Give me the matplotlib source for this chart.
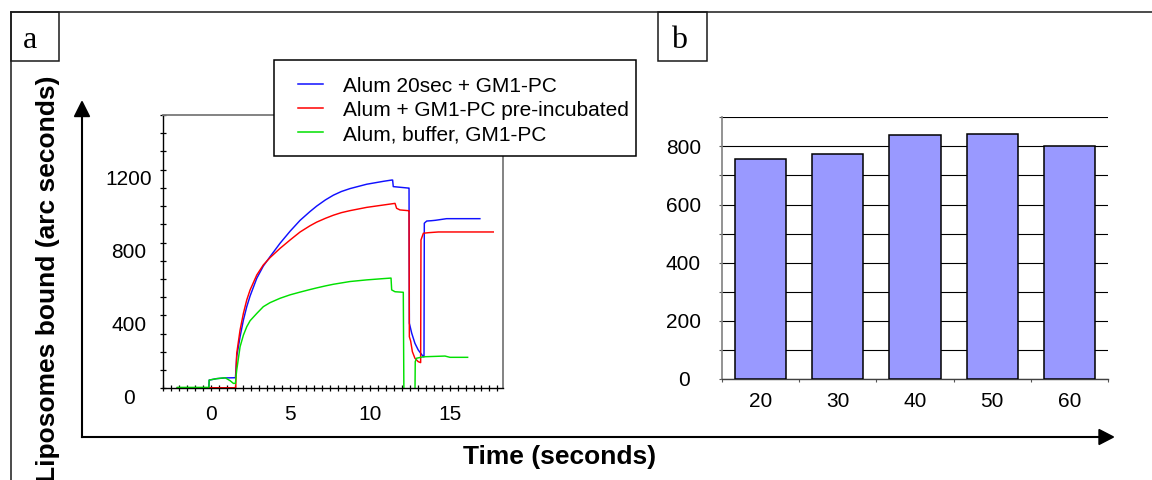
import matplotlib
matplotlib.use('Agg')
import matplotlib.pyplot as plt
from matplotlib.patches import Rectangle, Polygon
from matplotlib.lines import Line2D
from matplotlib.ticker import MultipleLocator
from matplotlib.transforms import ScaledTranslation

# ---------------- data ----------------
series_labels = ["Alum 20sec + GM1-PC",
                 "Alum + GM1-PC pre-incubated",
                 "Alum, buffer, GM1-PC"]
series_colors = ["#1010ff", "#ff0000", "#00e000"]

blue_t = [-2.1, -0.12, -0.1, 0.37, 0.9, 1.55, 1.58, 1.63, 1.84, 2.05, 2.26, 2.47,
          2.89, 3.3, 3.72, 4.35, 4.98, 5.61, 6.23, 6.65, 7.2, 7.7, 8.2, 8.74,
          9.79, 10.84, 11.36, 11.42, 11.46, 12.4, 12.45, 12.47, 12.62, 12.82,
          13.03, 13.35, 13.39, 13.41, 13.56, 13.87, 14.1, 14.81, 16.9]
blue_v = [3, 3, 45, 53, 57, 58, 100, 174, 283, 375, 448, 507,
          604, 671, 722, 796, 862, 922, 970, 1000, 1034, 1060, 1080, 1096,
          1120, 1136, 1143, 1143, 1107, 1099, 1099, 357, 302, 247,
          210, 173, 173, 906, 918, 920, 922, 931, 931]

red_t = [-2.1, 1.57, 1.59, 1.63, 1.84, 2.05, 2.26, 2.47, 2.89, 3.3, 3.72, 4.35,
         4.98, 5.61, 6.23, 6.65, 7.2, 7.7, 8.2, 8.74, 9.79, 10.84, 11.57, 11.67,
         11.88, 12.4, 12.45, 12.47, 12.55, 12.66, 12.82, 13.03, 13.18, 13.2,
         13.35, 13.66, 14.29, 17.74]
red_v = [3, 3, 100, 192, 320, 412, 485, 540, 622, 677, 717, 768,
         814, 858, 892, 912, 933, 950, 964, 975, 993, 1006, 1015, 988,
         979, 975, 975, 283, 260, 201, 165, 146, 141, 814,
         851, 854, 858, 858]

green_t = [-2.1, -0.12, -0.1, 0.37, 0.9, 1.21, 1.42, 1.55, 1.58, 1.63, 1.84, 2.05,
           2.26, 2.47, 2.89, 3.3, 3.72, 4.35, 4.98, 5.61, 6.23, 6.65, 7.2, 7.7,
           8.74, 9.79, 10.84, 11.32, 11.36, 11.57, 12.09, 12.13, 12.82, 12.84,
           12.92, 13.35, 14.71, 15.02, 16.13]
green_v = [5, 5, 45, 53, 58, 42, 27, 27, 60, 100, 228, 292,
           338, 371, 411, 448, 470, 494, 513, 528, 542, 551, 562, 571,
           586, 595, 602, 605, 540, 530, 527, -60, -60, 146,
           165, 173, 177, 170, 170]

bar_categories = ["20", "30", "40", "50", "60"]
bar_values = [755, 773, 838, 843, 803]

left_xticks = [0, 5, 10, 15]
left_yticks = [0, 400, 800, 1200]
right_yticks = [0, 200, 400, 600, 800]

# ---------------- figure ----------------
W, H = 1152, 480
plt.rcParams['font.family'] = ['Liberation Sans', 'DejaVu Sans']
fig = plt.figure(figsize=(W / 100, H / 100), dpi=100)


def fx(x):
    return x / W


def fy(y):
    return 1 - y / H


# ---------- panel a ----------
ax1 = fig.add_axes([fx(163), fy(388.3), (503.3 - 163) / W, (388.3 - 115) / H])
for t, v, c, lab in zip([blue_t, red_t, green_t], [blue_v, red_v, green_v],
                        series_colors, series_labels):
    ax1.plot(t, v, color=c, lw=1.05, label=lab)
ax1.set_xlim(-3.0, 18.37)
ax1.set_ylim(0, 1500)
ax1.set_xticks(left_xticks)
ax1.xaxis.set_minor_locator(MultipleLocator(0.5))
ax1.set_yticks(left_yticks)
ax1.yaxis.set_minor_locator(MultipleLocator(100))
ax1.tick_params(which='both', direction='inout', length=4.3, width=0.9,
                labelsize=15, color='black')
ax1.tick_params(axis='x', pad=9.85)
ax1.tick_params(axis='y', pad=22.3)
for lab in ax1.get_yticklabels():
    lab.set_horizontalalignment('center')
    lab.set_transform(lab.get_transform() +
                      ScaledTranslation(0, -8 / 100, fig.dpi_scale_trans))
for s in ['top', 'right']:
    ax1.spines[s].set_color('#7a7a7a')
    ax1.spines[s].set_linewidth(1.3)
for s in ['left', 'bottom']:
    ax1.spines[s].set_color('black')
    ax1.spines[s].set_linewidth(1.0)

# ---------- panel b ----------
ax2 = fig.add_axes([fx(721.7), fy(379), 386.6 / W, (379 - 117.3) / H])
xpos = list(range(len(bar_categories)))
ax2.bar(xpos, bar_values, width=0.667, color='#9999ff', edgecolor='black',
        linewidth=1.1, zorder=3)
ax2.set_xlim(-0.5, 4.5)
ax2.set_ylim(0, 900)
ax2.set_xticks(xpos)
ax2.set_xticklabels(bar_categories)
ax2.xaxis.set_minor_locator(MultipleLocator(1.0, offset=0.5))
ax2.set_yticks(right_yticks)
ax2.yaxis.set_minor_locator(MultipleLocator(100))
ax2.grid(True, axis='y', which='both', color='black', lw=0.8, zorder=0)
ax2.set_axisbelow(True)
ax2.tick_params(axis='x', which='major', length=0, pad=9.1, labelsize=15)
ax2.tick_params(axis='x', which='minor', length=2.2, width=0.8,
                direction='out', color='#555555')
ax2.tick_params(axis='y', which='both', length=2.2, width=0.8,
                direction='out', color='#555555', labelsize=15, pad=25.3)
for lab in ax2.get_yticklabels():
    lab.set_horizontalalignment('center')
for s in ['top', 'right']:
    ax2.spines[s].set_visible(False)
ax2.spines['left'].set_color('#808080')
ax2.spines['left'].set_linewidth(1.2)
ax2.spines['bottom'].set_color('#404040')
ax2.spines['bottom'].set_linewidth(1.0)

# ---------- legend (manual, on top) ----------
fig.add_artist(Rectangle((fx(274), fy(156)), (636 - 274) / W, (156 - 60) / H,
                         transform=fig.transFigure, facecolor='white',
                         edgecolor='black', lw=1.1, zorder=10))
line_ys = [84, 108, 132]
text_ys = [92, 116, 140]
for c, lab, ly, ty in zip(series_colors, series_labels, line_ys, text_ys):
    fig.add_artist(Line2D([fx(298), fx(323)], [fy(ly), fy(ly)],
                          transform=fig.transFigure, color=c, lw=1.1, zorder=11))
    fig.text(fx(342.7), fy(ty), lab, fontsize=15, ha='left', va='baseline',
             zorder=11)

# ---------- outer frame and panel boxes ----------
frame_kw = dict(transform=fig.transFigure, color='#1a1a1a', lw=1.1, zorder=5)
fig.add_artist(Line2D([fx(11), fx(11)], [fy(12), fy(480)], **frame_kw))
fig.add_artist(Line2D([fx(11), fx(1152)], [fy(12), fy(12)], **frame_kw))
for (x0, x1, letter, cx) in [(11, 59, 'a', 30.5), (658.3, 706.7, 'b', 679)]:
    fig.add_artist(Rectangle((fx(x0), fy(60.5)), (x1 - x0) / W, (60.5 - 12) / H,
                             transform=fig.transFigure, facecolor='none',
                             edgecolor='#1a1a1a', lw=1.1, zorder=6))
    fig.text(fx(cx), fy(47.5), letter, family='Liberation Serif', fontsize=23,
             ha='center', va='baseline')

# ---------- axis arrows ----------
arrow_kw = dict(transform=fig.transFigure, color='black', lw=1.5, zorder=5)
fig.add_artist(Line2D([fx(82), fx(82)], [fy(437), fy(114)], **arrow_kw))
fig.add_artist(Line2D([fx(82), fx(1101)], [fy(437), fy(437)], **arrow_kw))
fig.add_artist(Polygon([[fx(82), fy(101.5)], [fx(74.5), fy(116.5)],
                        [fx(89.5), fy(116.5)]], closed=True,
                       transform=fig.transFigure, color='black', zorder=5))
fig.add_artist(Polygon([[fx(1113.5), fy(437)], [fx(1099), fy(429.5)],
                        [fx(1099), fy(444.5)]], closed=True,
                       transform=fig.transFigure, color='black', zorder=5))

# ---------- axis titles ----------
fig.text(fx(560), fy(457), 'Time (seconds)', fontsize=19, fontweight='bold',
         ha='center', va='center')
fig.text(fx(48), fy(75), 'Liposomes bound (arc seconds)', fontsize=19,
         fontweight='bold', rotation=90, ha='center', va='top')

fig.savefig('out.png', dpi=100)
